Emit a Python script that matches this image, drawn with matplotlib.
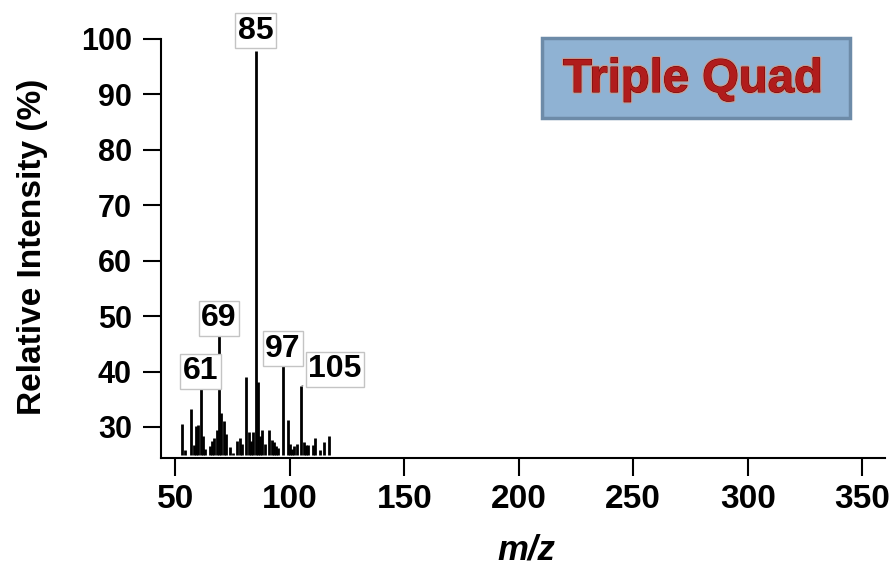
import matplotlib
matplotlib.use("Agg")
import matplotlib.pyplot as plt
import matplotlib.patheffects as pe
from matplotlib.patches import FancyBboxPatch

# peak list (m/z, relative intensity %)
mz = [53, 54, 57, 58, 59, 60, 61, 62, 63, 65, 66, 67, 68, 69, 70, 71, 72, 74, 75, 77,
      78, 79, 81, 82, 83, 84, 85, 86, 87, 88, 89, 91, 92, 93, 94, 95, 97, 99, 100, 101,
      102, 103, 105, 106, 107, 108, 110, 111, 113, 115, 117]
intensity = [30.5, 25.9, 33.2, 26.8, 30.1, 30.4, 37.0, 28.3, 26.0, 26.5,
             27.5, 28.0, 29.5, 46.5, 32.5, 31.0, 28.7, 26.3, 25.3, 27.5,
             28.0, 27.0, 39.0, 29.0, 27.4, 29.0, 97.8, 38.2, 28.3, 29.5,
             27.0, 29.5, 27.6, 27.3, 26.5, 26.2, 41.0, 31.3, 27.0, 26.0,
             26.5, 27.0, 37.3, 27.3, 26.8, 26.8, 26.8, 28.0, 25.8, 27.2,
             28.3]
baseline = 25.0

labeled = [61, 69, 85, 97]
side_label = 105

xticks = [50, 100, 150, 200, 250, 300, 350]
yticks = [30, 40, 50, 60, 70, 80, 90, 100]

fig = plt.figure(figsize=(8.93, 5.65), dpi=100)
ax = fig.add_axes([0.1803, 0.1894, 0.8108, 0.7416])

ax.vlines(mz, baseline, intensity, color='black', linewidth=2)

ax.set_xlim(43.7, 360.0)
ax.set_ylim(24.4, 100)
ax.set_xticks(xticks)
ax.set_yticks(yticks)

for s in ['top', 'right']:
    ax.spines[s].set_visible(False)
for s in ['left', 'bottom']:
    ax.spines[s].set_linewidth(1.5)

ax.tick_params(direction='out', length=13, width=1.5)
ax.tick_params(axis='x', pad=6)
ax.tick_params(axis='y', pad=8)
for lab in ax.get_xticklabels():
    lab.set_fontfamily('Liberation Sans')
    lab.set_fontweight('bold')
    lab.set_fontsize(24)
for lab in ax.get_yticklabels():
    lab.set_fontfamily('Liberation Sans')
    lab.set_fontweight('bold')
    lab.set_fontsize(22)

box = dict(boxstyle='square,pad=0.08', fc='white', ec='#c4c4c4', lw=1)
for m in labeled:
    v = intensity[mz.index(m)]
    gap = 4 if m == 85 else 1.5
    ax.annotate(str(m), (m, v), xytext=(0, gap), textcoords='offset points',
                ha='center', va='bottom', fontsize=23, fontweight='bold',
                family='Liberation Sans', bbox=box, annotation_clip=False, zorder=5)

v = intensity[mz.index(side_label)]
ax.annotate(str(side_label), (side_label, v), xytext=(5, 1.5), textcoords='offset points',
            ha='left', va='bottom', fontsize=23, fontweight='bold',
            family='Liberation Sans', bbox=box, zorder=5,
            arrowprops=dict(arrowstyle='-', linestyle=':', color='gray', lw=1))

fig.text(33 / 893, 1 - 247 / 565, 'Relative Intensity (%)', rotation=90,
         ha='center', va='center', fontsize=24, fontweight='bold', family='Liberation Sans')
fig.text(526 / 893, 1 - 550 / 565, 'm/z', ha='center', va='center', fontsize=25,
         fontweight='bold', style='italic', family='Liberation Sans')

# title box
patch = FancyBboxPatch((542 / 893, 1 - 118 / 565), 308 / 893, 80 / 565,
                       boxstyle='square,pad=0', transform=fig.transFigure,
                       fc='#8fb2d3', ec='#6d8ba8', lw=2.5)
fig.patches.append(patch)
fig.text(693 / 893, 1 - 80 / 565, 'Triple Quad', ha='center', va='center',
         fontsize=34, fontweight='bold', family='Liberation Sans', color='#b01c1c',
         path_effects=[pe.withStroke(linewidth=2.5, foreground='#e09478', alpha=0.7),
                       pe.withStroke(linewidth=0.8, foreground='#700a0a')])

fig.savefig('out.png', dpi=100)
